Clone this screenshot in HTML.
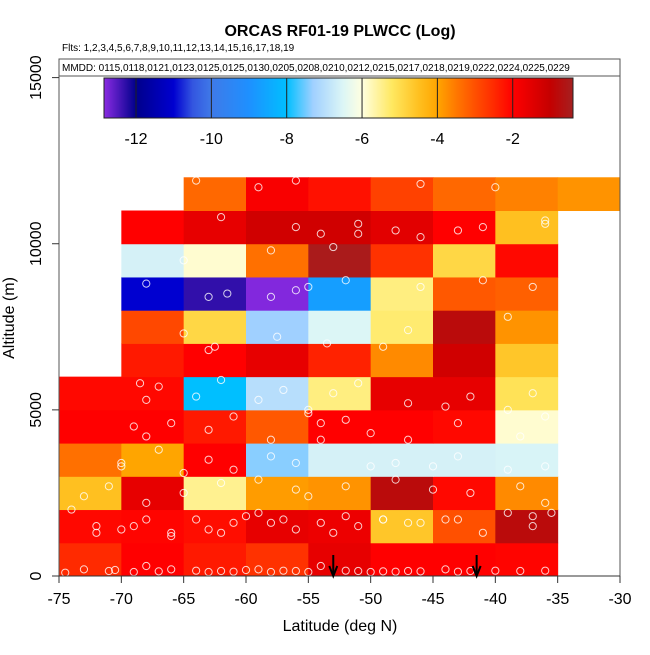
<!DOCTYPE html>
<html><head><meta charset="utf-8"><style>
body{margin:0;background:#fff}
svg text{font-family:"Liberation Sans",sans-serif}
</style></head><body>
<svg id="chart" width="650" height="650" xmlns="http://www.w3.org/2000/svg">
<text x="340" y="36" text-anchor="middle" font-size="16" font-weight="bold">ORCAS RF01-19 PLWCC (Log)</text>
<text x="62" y="51" font-size="10">Flts: 1,2,3,4,5,6,7,8,9,10,11,12,13,14,15,16,17,18,19</text>
<g id="cells"></g>
<g id="pts"></g>
<rect x="59" y="59" width="561" height="517" fill="none" stroke="#555"/>
<rect x="59" y="59" width="561" height="17" fill="#fff" stroke="#555"/>
<text x="62" y="71" font-size="10">MMDD: 0115,0118,0121,0123,0125,0125,0130,0205,0208,0210,0212,0215,0217,0218,0219,0222,0224,0225,0229</text>
<g id="cbar"></g>
<g id="axes"></g>
<text x="340" y="631" text-anchor="middle" font-size="16">Latitude (deg N)</text>
<text transform="translate(14,318) rotate(-90)" text-anchor="middle" font-size="16">Altitude (m)</text>
</svg>
<script>
const latEdges=[-75,-70,-65,-60,-55,-50,-45,-40,-35,-30];
const altEdges=[0,1000,2000,3000,4000,5000,6000,7000,8000,9000,10000,11000,12000];
// rows bottom (0-1 km) to top (11-12 km); log10 PLWCC
const cellValues=[
[-2.5,-2.0,-2.3,-2.6,-1.6,-2.0,-2.0,-2.05,null],
[-2.1,-2.05,-2.15,-1.6,-1.7,-4.6,-3.0,-0.8,null],
[-4.5,-1.6,-5.5,-3.9,-3.8,-0.8,-2.1,-3.7,null],
[-3.4,-4.0,-2.0,-7.4,-6.6,-6.6,-6.6,-6.55,null],
[-2.0,-2.0,-2.3,-3.1,-2.0,-2.0,-2.1,-5.9,null],
[-2.1,-2.1,-8.0,-7.0,-5.4,-1.6,-1.6,-5.1,null],
[null,-2.3,-2.0,-1.6,-2.4,-3.7,-1.2,-4.6,null],
[null,-2.9,-4.9,-7.3,-6.5,-5.3,-0.8,-3.8,null],
[null,-11.0,-12.3,-12.8,-8.7,-5.4,-3.1,-3.2,null],
[null,-6.6,-5.9,-3.4,-0.5,-2.6,-4.9,-2.1,null],
[null,-2.0,-1.6,-1.2,-1.2,-1.5,-2.0,-4.5,null],
[null,null,-3.3,-1.9,-2.2,-2.8,-3.3,-3.6,-3.8]
];
const xTicks=[-75,-70,-65,-60,-55,-50,-45,-40,-35,-30];
const yTicks=[0,5000,10000,15000];
const cbTicks=[-12,-10,-8,-6,-4,-2];
const arrowLats=[-53,-41.5];
const ptLat=[-74.5,-73,-71,-70.5,-69,-68,-67,-66,-64,-63,-62,-61,-60,-59,-58,-57,-56,-55,-54,-52,-51,-50,-49,-48,-47,-46,-44,-43,-42,-40,-38,-36,-72,-69,-66,-64,-62,-60,-58,-56,-53,-51,-49,-47,-44,-41,-37,-35.5,-72,-70,-68,-66,-63,-61,-59,-57,-54,-52,-49,-46,-43,-39,-37,-74,-71,-68,-65,-62,-59,-56,-55,-52,-48,-45,-42,-38,-36,-73,-70,-67,-65,-63,-61,-58,-56,-54,-50,-48,-45,-43,-39,-36,-70,-68,-66,-63,-61,-58,-55,-54,-52,-50,-47,-43,-38,-36,-69,-68,-67,-64,-62,-59,-57,-55,-53,-51,-47,-44,-42,-39,-37,-68.5,-63,-62.5,-57.5,-53.5,-49,-47,-39,-65,-63,-61.5,-58,-56,-55,-52,-46,-41,-37,-68,-65,-58,-53,-51,-48,-41,-36,-62,-56,-54,-51,-46,-43,-36,-66,-64,-59,-56,-46,-40,-66,-59,-53,-52,-46,-43];
const ptAlt=[100,200,150,180,120,300,140,200,160,120,150,130,180,200,120,160,150,120,300,160,150,120,140,130,150,140,200,130,150,160,150,160,1300,1500,1200,1700,1300,1800,1600,1400,1300,1500,1700,1600,1700,1300,1500,1900,1500,1400,1700,1300,1400,1600,1900,1700,1600,1800,1700,1600,1700,1900,1800,2000,2700,2200,2500,2800,2900,2600,2400,2700,2900,2600,2500,2700,2200,2400,3300,3800,3100,3500,3200,3600,3400,4100,3300,3400,3300,3600,3200,3300,3400,4200,4600,4400,4800,4100,4900,4600,4700,4300,4100,4600,4200,4800,4500,5300,5700,5400,5900,5300,5600,5000,5500,5800,5200,5100,5400,5000,5500,5800,6800,6900,7200,7000,6900,7400,7800,7300,8400,8500,8400,8600,8700,8900,8700,8900,8700,8800,9500,9800,9900,10300,10400,10500,10600,10800,10500,10300,10600,10200,10400,10700,11800,11900,11700,11900,11800,11700,11500];
const cmapV=[-12.85,-12,-11,-10.5,-10,-9,-8,-7.3,-6.5,-6,-5.2,-4.5,-4,-3.5,-3,-2.5,-2,-1,-0.4];
const cmapC=["#8a2be2","#00008b","#0000d0","#3355e0","#3f7ae8","#1e90ff","#00bfff","#a0d0ff","#dcf6f6","#ffffe0","#ffe860","#ffc020","#ffa500","#ff7800","#ff5000","#ff2a00","#ff0000","#c40000","#a52020"];
const X0=59,X1=620,Y0=576,Y1=77.6;
const xs=v=>X0+(v+75)/45*(X1-X0);
const ys=v=>Y0-v/15000*(Y0-Y1);
function hex(c){return[1,3,5].map(i=>parseInt(c.substr(i,2),16));}
function cmap(v){
 if(v<=cmapV[0])return cmapC[0];
 for(let i=1;i<cmapV.length;i++){if(v<=cmapV[i]){const t=(v-cmapV[i-1])/(cmapV[i]-cmapV[i-1]);const a=hex(cmapC[i-1]),b=hex(cmapC[i]);return"rgb("+a.map((x,k)=>Math.round(x+(b[k]-x)*t)).join(",")+")";}}
 return cmapC[cmapC.length-1];}
const NS="http://www.w3.org/2000/svg";
function mk(t,p,a){const e=document.createElementNS(NS,t);for(const k in a)e.setAttribute(k,a[k]);p.appendChild(e);return e;}
const cells=document.getElementById('cells');
cellValues.forEach((row,r)=>row.forEach((v,c)=>{if(v===null)return;
 const x=xs(latEdges[c]),y=ys(altEdges[r+1]);
 const e=mk('rect',cells,{x:x,y:y,width:xs(latEdges[c+1])-x+0.5,height:ys(altEdges[r])-y+0.5,fill:cmap(v)});
 
 }));
const pts=document.getElementById('pts');
ptLat.forEach((la,i)=>{const e=mk('circle',pts,{cx:xs(la),cy:ys(ptAlt[i]),r:3.6,fill:'none',stroke:'rgba(255,255,255,0.8)','stroke-width':1});
 
 });
const ax=document.getElementById('axes');
mk('line',ax,{x1:X0,y1:Y0,x2:X1,y2:Y0,stroke:'#333'});
xTicks.forEach(t=>{const x=xs(t);mk('line',ax,{x1:x,y1:Y0,x2:x,y2:Y0+7,stroke:'#333'});
 const e=mk('text',ax,{x:x,y:604,'text-anchor':'middle','font-size':16});e.textContent=t;
 
 });
yTicks.forEach(t=>{const y=ys(t);mk('line',ax,{x1:X0-7,y1:y,x2:X0,y2:y,stroke:'#333'});
 const e=mk('text',ax,{transform:`translate(41,${y}) rotate(-90)`,'text-anchor':'middle','font-size':16});e.textContent=t;
 
 });
arrowLats.forEach(la=>{const x=xs(la);mk('line',ax,{x1:x,y1:555,x2:x,y2:574,stroke:'#000','stroke-width':2});
 const e=mk('path',ax,{d:`M${x-4},566 L${x},576 L${x+4},566`,fill:'none',stroke:'#000','stroke-width':2});
 
 });
const cb=document.getElementById('cbar');
const CB0=104,CB1=573,CBV0=-12.85,CBV1=-0.4,cbx=v=>CB0+(v-CBV0)/(CBV1-CBV0)*(CB1-CB0);
for(let x=CB0;x<CB1;x++){const v=CBV0+(x-CB0+0.5)/(CB1-CB0)*(CBV1-CBV0);mk('rect',cb,{x:x,y:78,width:1.2,height:40,fill:cmap(v)});}
mk('rect',cb,{x:CB0,y:78,width:CB1-CB0,height:40,fill:'none',stroke:'#222'});
cbTicks.forEach(t=>{const x=cbx(t);mk('line',cb,{x1:x,y1:78,x2:x,y2:118,stroke:'#222'});
 const e=mk('text',cb,{x:x,y:144,'text-anchor':'middle','font-size':16});e.textContent=t;
 
 });
</script>
</body></html>
